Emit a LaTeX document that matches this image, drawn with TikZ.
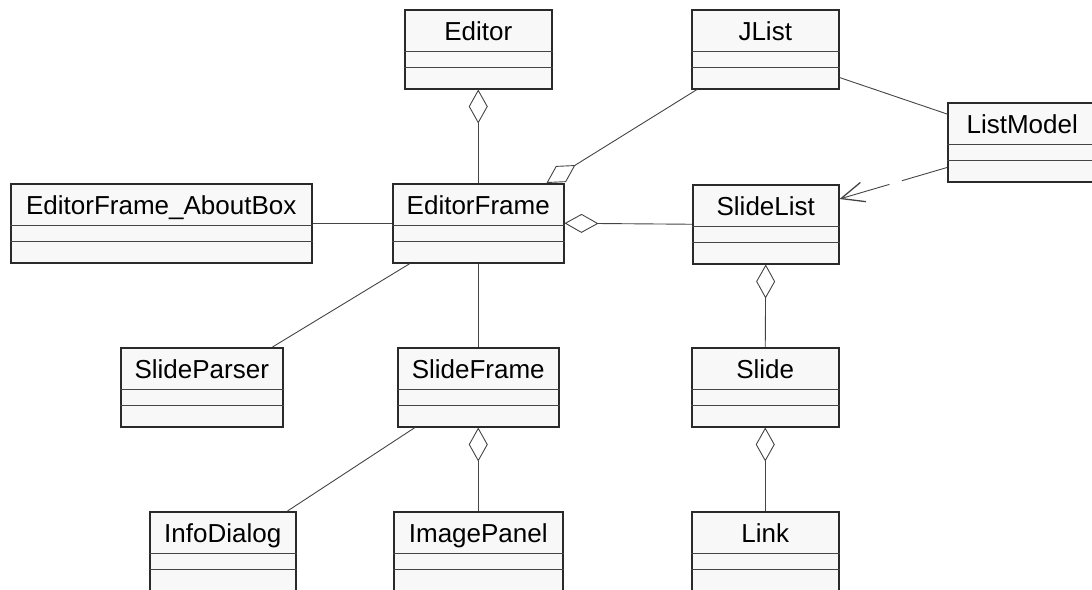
\documentclass[tikz,border=0pt]{standalone}
\usepackage{fontspec}
\setmainfont{Liberation Sans}
\usetikzlibrary{arrows.meta}

\definecolor{boxfill}{HTML}{F8F8F8}
\definecolor{boxedge}{HTML}{2A2A2A}
\definecolor{linkgray}{HTML}{444444}

\tikzset{
	classbody/.style={draw=boxedge, line width=1.5pt, fill=boxfill, minimum height=79pt, inner sep=0pt},
	classtitle/.style={anchor=base, inner sep=0pt, font=\fontsize{26}{31}\selectfont},
	classline/.style={draw=linkgray, line width=0.9pt},
	assoc/.style={draw=linkgray, line width=0.9pt},
	aggr/.style={assoc, {Diamond[open, length=34pt, width=19pt]}-},
	depend/.style={assoc, dash pattern=on 47pt off 13pt on 90pt off 1pt, -{Straight Barb[length=23pt, width=20pt, line width=1.3pt]}}
}

% class box: name, top left corner, width, title
\newcommand{\classbox}[4]{
	\node[classbody, minimum width=#3, anchor=north west] (#1) at (#2) {};
	\node[classtitle] (#1-title) at ([yshift=-31.5pt]#1.north) {#4};
	\draw[classline] ([yshift=-42pt]#1.north west) -- ([yshift=-42pt]#1.north east);
	\draw[classline] ([yshift=-58pt]#1.north west) -- ([yshift=-58pt]#1.north east);
}

\begin{document}
	\begin{tikzpicture}[x=1pt, y=-1pt]
		\path[use as bounding box, clip] (0,0) rectangle (1092,589);
		
		\classbox{Editor}{404,9}{147pt}{Editor}
		\classbox{JList}{691,9}{147pt}{JList}
		\classbox{ListModel}{947,102}{149pt}{ListModel}
		\classbox{AboutBox}{10,183}{301pt}{EditorFrame\_AboutBox}
		\classbox{EditorFrame}{392,183}{171pt}{EditorFrame}
		\classbox{SlideList}{692,184}{146pt}{SlideList}
		\classbox{SlideParser}{120,347}{162pt}{SlideParser}
		\classbox{SlideFrame}{397,347}{161pt}{SlideFrame}
		\classbox{Slide}{691,347}{147pt}{Slide}
		\classbox{InfoDialog}{149,511}{146pt}{InfoDialog}
		\classbox{ImagePanel}{393,511}{169pt}{ImagePanel}
		\classbox{Link}{691,511}{147pt}{Link}
		
		\draw[aggr] (Editor.south) -- (EditorFrame.north);
		\draw[aggr] ([xshift=-18pt]EditorFrame.north east) -- ([xshift=6pt]JList.south west);
		\draw[aggr] (EditorFrame.east) -- (SlideList.west);
		\draw[assoc] (AboutBox.east) -- (EditorFrame.west);
		\draw[assoc] ([yshift=12pt]JList.south east) -- ([yshift=-12pt]ListModel.north west);
		\draw[depend] ([yshift=15pt]ListModel.south west) -- ([yshift=-15pt]SlideList.north east);
		\draw[assoc] ([xshift=18pt]EditorFrame.south west) -- ([xshift=-11pt]SlideParser.north east);
		\draw[assoc] (EditorFrame.south) -- (SlideFrame.north);
		\draw[assoc] ([xshift=18pt]SlideFrame.south west) -- ([xshift=-9pt]InfoDialog.north east);
		\draw[aggr] (SlideFrame.south) -- (ImagePanel.north);
		\draw[aggr] (SlideList.south) -- (Slide.north);
		\draw[aggr] (Slide.south) -- (Link.north);
		
	\end{tikzpicture}
\end{document}
